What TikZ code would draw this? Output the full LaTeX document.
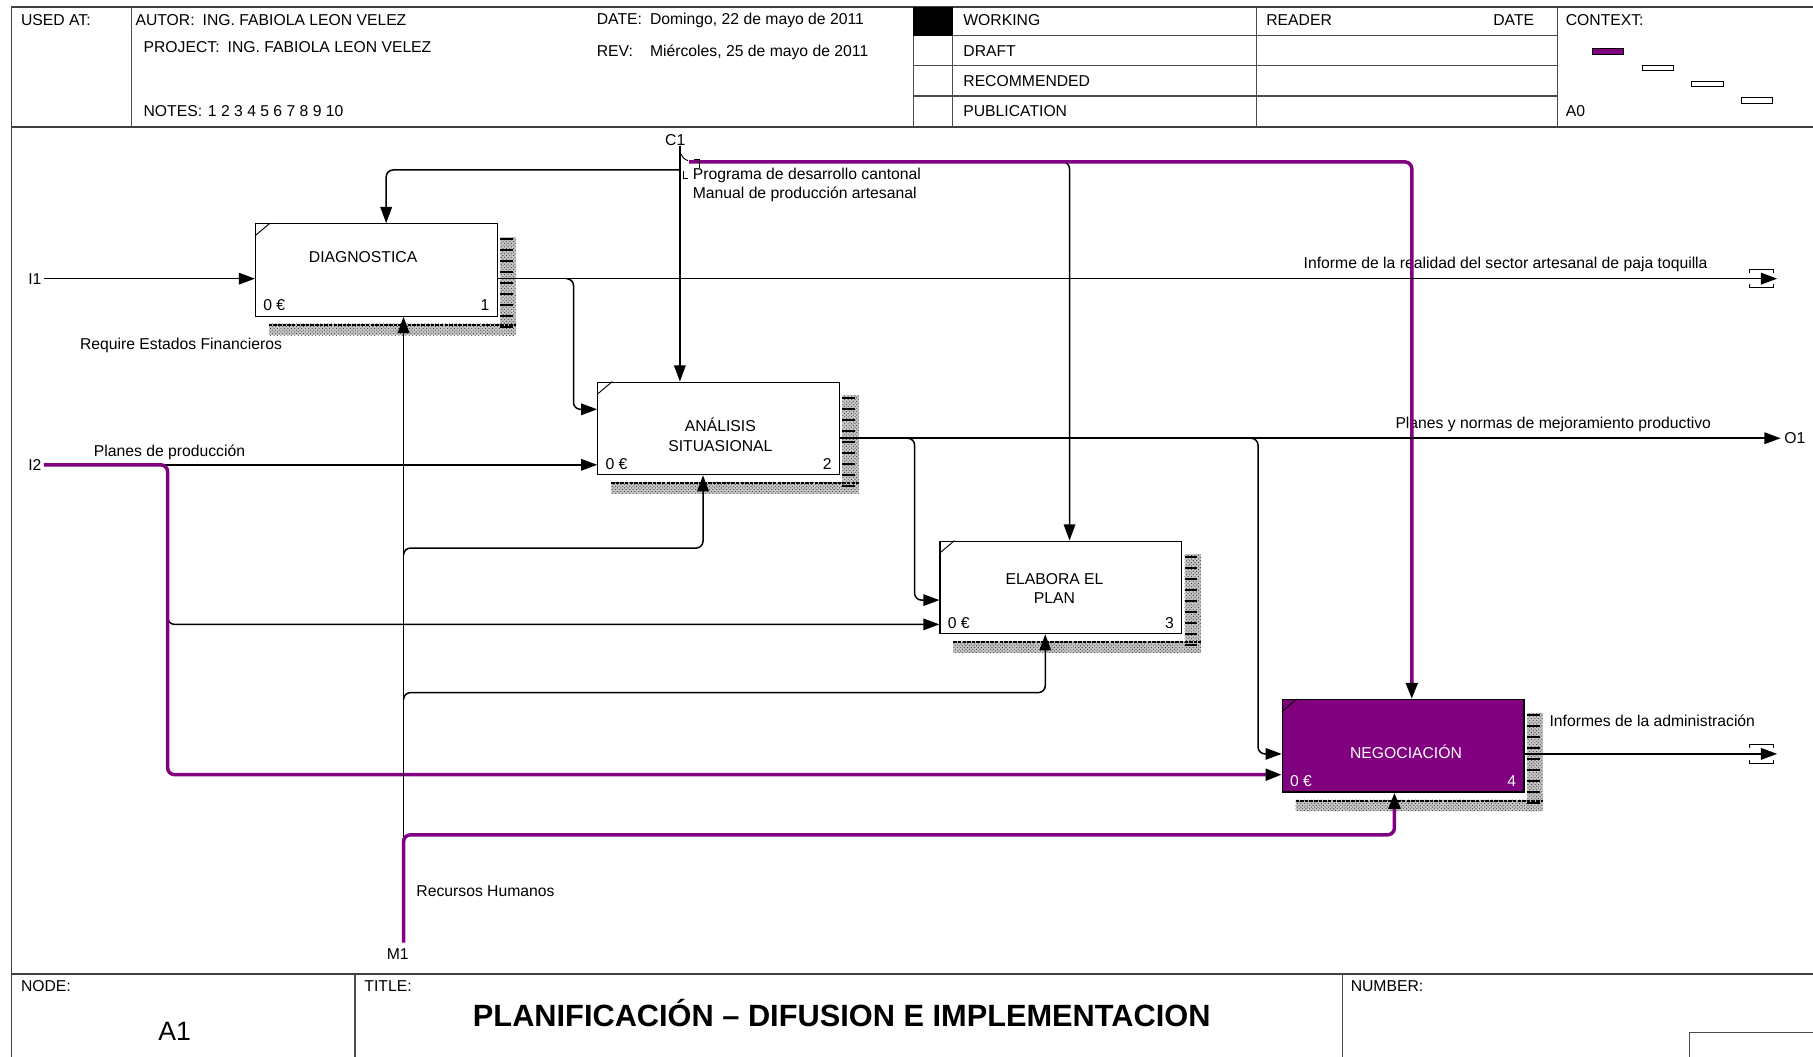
\documentclass[tikz,border=0pt]{standalone}
\usepackage{fontspec}
\setmainfont{Liberation Sans}
\usepackage{xcolor}
\usepackage{tikz}
\usetikzlibrary{arrows.meta,positioning,calc,patterns}

\definecolor{idefpurple}{RGB}{128,0,128}

\begin{document}
\begin{tikzpicture}[
    x=1pt, y=-1pt,
    >={Triangle[length=14pt,width=10pt,color=black]},
    txt/.style={font=\fontsize{13.6}{17}\selectfont, inner sep=0pt},
    frame/.style={draw=black!75, line width=1.6pt},
    grid/.style={draw=black!70, line width=1pt},
    actbox/.style={rectangle, draw, line width=1pt, fill=white, minimum width=209pt, minimum height=80pt, inner sep=0pt},
    flow/.style={line width=1.3pt, rounded corners=6pt},
    purp/.style={draw=idefpurple, line width=3pt, rounded corners=6pt},
    shadow/.style={preaction={fill=black!22}, pattern=crosshatch dots, pattern color=black!80},
    tunnel/.pic={
        \draw[line width=1pt] (-24,-5) -- (-24,-8) -- (-3,-8) -- (-3,-5);
        \draw[line width=1pt] (-24,5) -- (-24,8) -- (-3,8) -- (-3,5);
    }
]
    \useasboundingbox (0,0) rectangle (1568,914);

    % header and footer frame
    \draw[frame] (10,914) -- (10,6) -- (1568,6);
    \draw[frame] (10,110) -- (1568,110);
    \draw[frame] (10,842) -- (1568,842);
    \draw[grid] (114,6) -- (114,110);
    \draw[grid] (790,6) -- (790,110);
    \draw[grid] (824,6) -- (824,110);
    \draw[grid] (1087,6) -- (1087,110);
    \draw[grid] (1347,6) -- (1347,110);
    \foreach \r in {31,57,83}
        \draw[grid] (790,\r) -- (1347,\r);
    \fill (790,6) rectangle (824,31);
    \draw[grid] (307,842) -- (307,914);
    \draw[grid] (1161,842) -- (1161,914);
    \draw[grid] (1461,914) -- (1461,893) -- (1568,893);

    \node[txt, anchor=west] (usedat) at (18,17) {USED AT:};
    \node[txt, anchor=west] (autor) at (117,17) {AUTOR:\hspace{7pt}ING. FABIOLA LEON VELEZ};
    \node[txt, anchor=west] (project) at (124,41) {PROJECT:\hspace{7pt}ING. FABIOLA LEON VELEZ};
    \node[txt, anchor=west] (notes) at (124,96) {NOTES:\hspace{5pt}1 2 3 4 5 6 7 8 9 10};
    \node[txt, anchor=west] (date) at (516,18) {\makebox[46pt][l]{DATE:}Domingo, 22 de mayo de 2011};
    \node[txt, anchor=west] (rev) at (516,45) {\makebox[46pt][l]{REV:}Miércoles, 25 de mayo de 2011};
    \node[txt, anchor=west] (working) at (833,17) {WORKING};
    \node[txt, anchor=west] (draft) at (833,44) {DRAFT};
    \node[txt, anchor=west] (recommended) at (833,70) {RECOMMENDED};
    \node[txt, anchor=west] (publication) at (833,96) {PUBLICATION};
    \node[txt, anchor=west] (reader) at (1095,17) {READER};
    \node[txt, anchor=east] (readerdate) at (1327,17) {DATE};
    \node[txt, anchor=west] (context) at (1354,17) {CONTEXT:};
    \node[txt, anchor=west] (ctxnode) at (1354,96) {A0};
    \draw[fill=idefpurple] (1377,42) rectangle (1404,47);
    \foreach \i in {1,2,3}
        \draw[fill=white] ({1377+43*\i},{42+14*\i}) rectangle ({1404+43*\i},{47+14*\i});

    \node[txt, anchor=west] (nodelbl) at (18,853) {NODE:};
    \node[txt, anchor=west] (titlelbl) at (315,853) {TITLE:};
    \node[txt, anchor=west] (numberlbl) at (1168,853) {NUMBER:};
    \node[font=\fontsize{23}{26}\selectfont, inner sep=0pt] (nodeid) at (151,892) {A1};
    \node[font=\fontsize{26.6}{30}\selectfont\bfseries, inner sep=0pt] (title) at (728,876) {PLANIFICACIÓN – DIFUSION E IMPLEMENTACION};

    % activities
    \node[actbox] (b1) at (325.5,233.5) {};
    \node[actbox] (b2) at (621.5,370.5) {};
    \node[actbox] (b3) at (917.5,508) {};
    \node[actbox, fill=idefpurple] (b4) at (1213.5,645) {};

    \foreach \b/\n/\c in {b1/1/black, b2/2/black, b3/3/black, b4/4/white} {
        \path[shadow] ([xshift=2pt,yshift=-12pt]\b.north east) rectangle ([xshift=16pt,yshift=-16pt]\b.south east);
        \path[shadow] ([xshift=12pt,yshift=-6pt]\b.south west) rectangle ([xshift=16pt,yshift=-16pt]\b.south east);
        \foreach \k in {0,...,8}
            \draw[line width=1.8pt] ([xshift=2pt,yshift=-14pt-\k*9.5pt]\b.north east) -- ++(11,0);
        \draw[line width=2pt, dash pattern=on 3pt off 1pt] ([xshift=12pt,yshift=-7pt]\b.south west) -- ([xshift=16pt,yshift=-7pt]\b.south east);
        \draw[line width=0.8pt] ([yshift=-11pt]\b.north west) -- ([xshift=13pt]\b.north west);
        \node[txt, text=\c, anchor=west] (\b-cost) at ([xshift=7pt,yshift=10pt]\b.south west) {0 €};
        \node[txt, text=\c, anchor=east] (\b-num) at ([xshift=-7pt,yshift=10pt]\b.south east) {\n};
    }

    \node[txt, align=center] (b1txt) at (314,222) {DIAGNOSTICA};
    \node[txt, align=center] (b2txt) at (623,376) {ANÁLISIS\\SITUASIONAL};
    \node[txt, align=center] (b3txt) at (912,509) {ELABORA EL\\PLAN};
    \node[txt, align=center, text=white] (b4txt) at (1216,650) {NEGOCIACIÓN};

    % boundary labels
    \node[txt, anchor=east, inner sep=2pt] (i1) at (38,241) {I1};
    \node[txt, anchor=east, inner sep=2pt] (i2) at (38,402) {I2};
    \node[txt] (c1) at (584,121) {C1};
    \node[txt, inner sep=5pt] (m1) at (344,825) {M1};
    \node[txt, anchor=west, inner sep=3pt] (o1) at (1540,379) {O1};

    \node[txt, anchor=east] (out1lbl) at (1477,229) {Informe de la realidad del sector artesanal de paja toquilla};
    \node[txt, anchor=east] (out2lbl) at (1480,367) {Planes y normas de mejoramiento productivo};
    \node[txt, anchor=west] (out3lbl) at (1340,623) {Informes de la administración};
    \node[txt, anchor=west] (in2lbl) at (81,391) {Planes de producción};
    \node[txt, anchor=west] (reqlbl) at (69,299) {Require Estados Financieros};
    \node[txt, anchor=west] (rrhhlbl) at (360,771) {Recursos Humanos};
    \node[txt, anchor=north west, align=left] (ctrllbl) at (599,145) {Programa de desarrollo cantonal\\Manual de producción artesanal};

    % junctions and tunnel ends
    \coordinate (jc1) at (588,147);
    \coordinate (jc2) at (596,140);
    \coordinate (jc3) at (919,140);
    \coordinate (jo1) at (490,241);
    \coordinate (jo2) at (785,379);
    \coordinate (jo3) at (1082,379);
    \coordinate (ji2) at (140,402);
    \coordinate (ji3) at (145,534);
    \coordinate (jm1) at (349,724);
    \coordinate (jm2) at (349,480);
    \coordinate (jm3) at (349,605);
    \coordinate (t1) at (1537,241);
    \coordinate (t2) at (1537,652);

    % controls
    \draw[flow, ->] (jc3) -| (b3.north -| 925,0);
    \draw[purp, ->] (jc2) -| (b4.north -| 1221,0);
    \draw[flow, ->] (c1.south -| jc1) -- (b2.north -| jc1);
    \draw[flow, ->] (jc1) -| (b1.north -| 334,0);
    \draw[line width=0.8pt] (589,133) .. controls (591,137) .. (595,139);
    \draw[line width=0.8pt] (600,138) -- (605,138) -- (605,145);
    \draw[line width=0.8pt] (591,148) -- (591,154) -- (595,154);

    % inputs
    \draw[flow, ->] (i1.east) -- (b1.west |- i1.east);
    \draw[flow, ->] (ji2) -- (b2.west |- ji2);
    \draw[flow, ->] (ji3) |- (b3.west |- 0,540);
    \draw[purp, ->] (i2.east) -| (145,670) -- (b4.west |- 0,670);

    % outputs
    \draw[flow, ->] (b1.east |- t1) -- (t1);
    \pic at (t1) {tunnel};
    \draw[flow, ->] (jo1) -| (496,354) -- (b2.west |- 0,354);
    \draw[flow, ->] (b2.east |- o1.west) -- (o1.west);
    \draw[flow, ->] (jo2) -| (791,519) -- (b3.west |- 0,519);
    \draw[flow, ->] (jo3) -| (1088,652) -- (b4.west |- 0,652);
    \draw[flow, ->] (b4.east |- t2) -- (t2);
    \pic at (t2) {tunnel};

    % mechanisms
    \draw[flow, ->] (jm1) -- (b1.south -| jm1);
    \draw[flow, ->] (jm2) |- (608,474) -- (b2.south -| 608,0);
    \draw[flow, ->] (jm3) |- (904,599) -- (b3.south -| 904,0);
    \draw[purp, ->] (m1.north -| jm1) |- (1206,722) -- (b4.south -| 1206,0);
\end{tikzpicture}
\end{document}
